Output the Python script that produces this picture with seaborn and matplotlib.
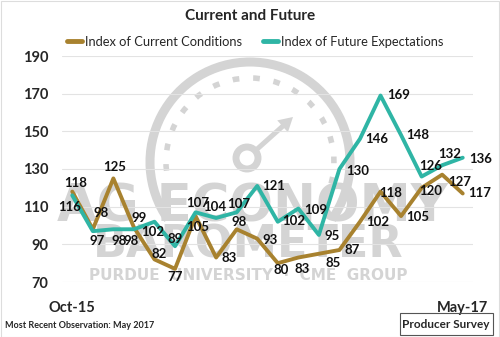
import matplotlib
matplotlib.use("Agg")
import matplotlib.pyplot as plt
import seaborn as sns
import pandas as pd
import numpy as np
from matplotlib.patches import Arc, Circle, FancyArrow, Rectangle

months = ["Oct-15", "Nov-15", "Dec-15", "Jan-16", "Feb-16", "Mar-16", "Apr-16",
          "May-16", "Jun-16", "Jul-16", "Aug-16", "Sep-16", "Oct-16", "Nov-16",
          "Dec-16", "Jan-17", "Feb-17", "Mar-17", "Apr-17", "May-17"]
current = [118, 98, 125, 99, 82, 77, 105, 83, 98, 93, 80, 83, 85, 87, 102, 118, 105, 120, 127, 117]
future = [116, 97, 98, 98, 102, 89, 107, 104, 107, 121, 102, 109, 95, 130, 146, 169, 148, 126, 132, 136]
series_names = ["Index of Current Conditions", "Index of Future Expectations"]
yticks = [70, 90, 110, 130, 150, 170, 190]
xtick_labels = ["Oct-15", "May-17"]

# label offsets in pixels (dx right, dy down)
cur_off = [(3, -9), (8, -16), (1, -11), (5, -9), (5, -5), (0, 8), (2, 11), (13, 0), (2, -7), (13, 1),
           (3, 7), (4, 11), (14, 9), (13, 0), (18, 0), (10, 1), (17, 1), (9, 3), (18, 7), (17, 0)]
fut_off = [(-3, 12), (4, 10), (6, 12), (-3, 12), (-2, 10), (0, -7), (2, -9), (-1, -11), (2, -8), (16, 0),
           (16, -1), (17, 1), (13, 1), (18, 2), (17, 0), (18, -1), (17, 0), (9, -11), (7, -11), (18, 1)]

brown = "#A8822F"
teal = "#2FB5A5"

sns.set_theme(style="white")
plt.rcParams['font.family'] = ['Lato', 'DejaVu Sans']

df = pd.DataFrame({
    "idx": list(range(len(months))) * 2,
    "value": current + future,
    "series": [series_names[0]] * len(months) + [series_names[1]] * len(months),
})

fig = plt.figure(figsize=(5.0, 3.37), dpi=100)
W, H = 500, 337
fx = lambda x: x / W
fy = lambda y: 1 - y / H

# background axes for the watermark (pixel coordinates, y down)
bg = fig.add_axes([0, 0, 1, 1], zorder=-1)
bg.set_xlim(0, W)
bg.set_ylim(H, 0)
bg.axis("off")
wm = "#D4D4D4"
bg.add_patch(Arc((250, 162), 200, 200, theta1=-215, theta2=35, color=wm, lw=6.5))
bg.add_patch(Arc((250, 162), 168, 168, theta1=-200, theta2=20, color=wm, lw=4, ls=(0, (1.2, 2.5))))
bg.add_patch(Circle((247, 158), 11, fill=False, ec=wm, lw=5))
bg.add_patch(FancyArrow(255, 151, 38, -34, width=5, head_width=16, head_length=14,
                        length_includes_head=True, color=wm, lw=0))
bg.text(252, 207, "AG ECONOMY", ha="center", va="center", fontsize=37,
        fontweight="bold", color=wm, family="Liberation Sans Narrow")
bg.text(248, 245, "BAROMETER", ha="center", va="center", fontsize=32,
        fontweight="bold", color=wm, family="Liberation Sans Narrow")
bg.text(248, 275, "PURDUE  UNIVERSITY  \u00b7  CME  GROUP", ha="center",
        va="center", fontsize=11, fontweight="bold", color=wm, family="DejaVu Sans")

ax = fig.add_axes([62 / W, 1 - 282 / H, (473 - 62) / W, (282 - 56) / H], zorder=1)
ax.patch.set_alpha(0)

sns.lineplot(data=df, x="idx", y="value", hue="series", palette=[brown, teal],
             linewidth=2.8, ax=ax, legend=True)

ax.set_xlim(-0.5, len(months) - 0.5)
ax.set_ylim(70, 190)
ax.set_yticks(yticks)
ax.set_yticklabels([str(v) for v in yticks], fontweight="bold", fontsize=10.5)
ax.tick_params(axis="y", length=0, pad=10)
ax.set_xticks([0, len(months) - 1])
ax.set_xticklabels(xtick_labels, fontweight="bold", fontsize=10.5)
ax.tick_params(axis="x", length=0, pad=14)
ax.grid(axis="y", color="#E3E3E3", lw=0.8)
ax.set_axisbelow(True)
for s in ax.spines.values():
    s.set_visible(False)
ax.set_xlabel("")
ax.set_ylabel("")

for i, v in enumerate(current):
    dx, dy = cur_off[i]
    ax.annotate(str(v), (i, v), xytext=(dx, -dy), textcoords="offset pixels",
                ha="center", va="center", fontsize=9.5, fontweight="bold", color="#111111")
for i, v in enumerate(future):
    dx, dy = fut_off[i]
    ax.annotate(str(v), (i, v), xytext=(dx, -dy), textcoords="offset pixels",
                ha="center", va="center", fontsize=9.5, fontweight="bold", color="#111111")

leg = ax.legend(loc="center", bbox_to_anchor=(fx(255), fy(42)), bbox_transform=fig.transFigure,
                ncol=2, frameon=False, fontsize=9.3, handlelength=1.2, handletextpad=0.2,
                columnspacing=1.6)
for line in leg.get_lines():
    line.set_linewidth(3.5)

fig.text(fx(250), fy(16), "Current and Future", ha="center", va="center",
         fontsize=11, fontweight="bold")
fig.text(fx(5), fy(326), "Most Recent Observation: May 2017", ha="left", va="center",
         fontsize=6.5, fontweight="bold")
fig.text(fx(446), fy(324), "Producer Survey", ha="center", va="center", fontsize=8.5,
         fontweight="bold")
fig.patches.append(Rectangle((fx(400), fy(335)), 93 / W, 22 / H, transform=fig.transFigure,
                             fill=False, ec="#555555", lw=0.8))
fig.patches.append(Rectangle((0.001, 0.001), 0.997, 0.997, transform=fig.transFigure,
                             fill=False, ec="#DDDDDD", lw=0.8))

fig.savefig("out.png", dpi=100)
